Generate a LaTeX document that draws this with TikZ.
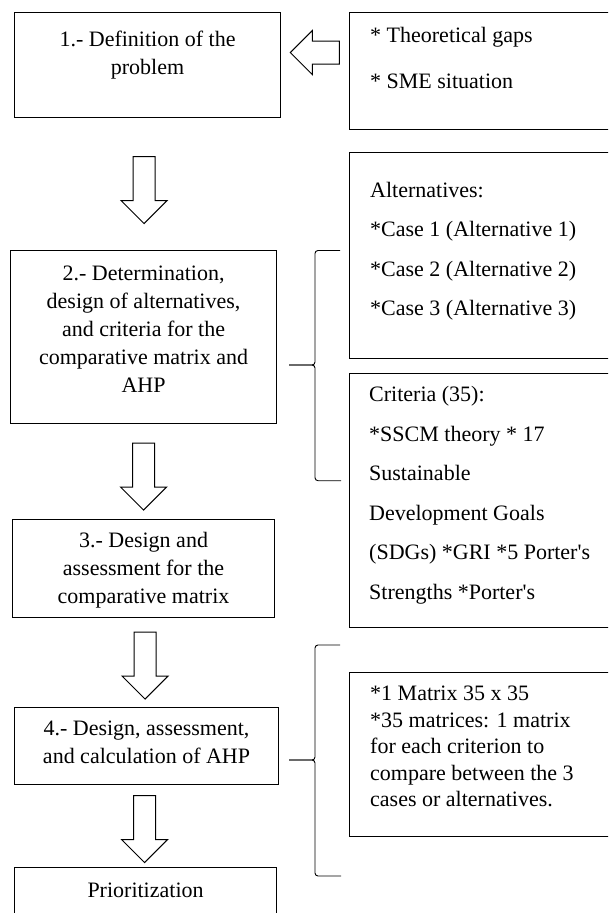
\documentclass[tikz,border=0pt]{standalone}
\usepackage{fontspec}
\setmainfont{Liberation Serif}
\usetikzlibrary{positioning,shapes.arrows,calc}
\begin{document}
\begin{tikzpicture}[x=1pt,y=1pt]
      \tikzstyle{every node}+=[inner sep=0pt]
      \tikzstyle{stepbox}=[draw=black, line width=1.1pt, rectangle, anchor=north west]
      \tikzstyle{steptext}=[align=center, font=\fontsize{22}{28}\selectfont]
      \tikzstyle{notetext}=[align=left, font=\fontsize{22}{39.5}\selectfont]
      \tikzstyle{hollow}=[draw=black, line width=1pt, single arrow, single arrow head extend=12pt, inner sep=10.5pt, minimum height=67pt, shape border rotate=270]
      \tikzstyle{bracket}=[draw=black, line width=0.9pt, rounded corners=3pt]
      \useasboundingbox (0,0) rectangle (608,-913);
      \fill [white] (0,0) rectangle (608,-913);
      \clip (0,0) rectangle (608,-913);
      \node [stepbox, minimum width=266, minimum height=105] (def) at (14,-12) {};
      \node [steptext, below=18.5pt of def.north] (deftext) {1.- Definition of the\\problem};
      \node [stepbox, minimum width=266, minimum height=173] (det) at (10,-250) {};
      \node [steptext, below=15.5pt of det.north] (dettext) {2.- Determination,\\design of alternatives,\\and criteria for the\\comparative matrix and\\AHP};
      \node [stepbox, minimum width=262, minimum height=98] (cmp) at (12,-519) {};
      \node [steptext, below=13.5pt of cmp.north] (cmptext) {3.- Design and\\assessment for the\\comparative matrix};
      \node [stepbox, minimum width=264, minimum height=77] (ahp) at (14,-707) {};
      \node [steptext, below=14pt of ahp.north] (ahptext) {4.- Design, assessment,\\and calculation of AHP};
      \node [stepbox, minimum width=262, minimum height=60] (prio) at (14,-867) {};
      \node [steptext, below=16pt of prio.north] (priotext) {Prioritization};
      \node [stepbox, minimum width=270, minimum height=117] (gaps) at (349,-12) {};
      \node [notetext, font=\fontsize{22}{46}\selectfont, below right=15.5pt and 21pt of gaps.north west] (gapstext) {* Theoretical gaps\\* SME situation};
      \node [stepbox, minimum width=270, minimum height=206] (alts) at (349,-152) {};
      \node [notetext, below right=30pt and 21pt of alts.north west] (altstext) {Alternatives:\\*Case 1 (Alternative 1)\\*Case 2 (Alternative 2)\\*Case 3 (Alternative 3)};
      \node [stepbox, minimum width=270, minimum height=254] (crit) at (349,-373) {};
      \node [notetext, below right=13.5pt and 20pt of crit.north west] (crittext) {Criteria (35):\\*SSCM theory * 17\\Sustainable\\Development Goals\\(SDGs) *GRI *5 Porter\textquotesingle s\\Strengths *Porter\textquotesingle s};
      \node [stepbox, minimum width=270, minimum height=164] (mats) at (349,-672) {};
      \node [notetext, font=\fontsize{22}{26.5}\selectfont, below right=14pt and 21pt of mats.north west] (matstext) {*1 Matrix 35 x 35\\*35 matrices: 1 matrix\\for each criterion to\\compare between the 3\\cases or alternatives.};
      \node [hollow] (defdet) at ($(def.south)!0.5!(det.north)+(-1.5,-0.5)$) {};
      \node [hollow] (detcmp) at ($(det.south)!0.5!(cmp.north)+(0,0.5)$) {};
      \node [hollow] (cmpahp) at ($(cmp.south)!0.5!(ahp.north)+(0,2.5)$) {};
      \node [hollow] (ahpprio) at ($(ahp.south)!0.5!(prio.north)+(-1.5,2.5)$) {};
      \node [hollow, shape border rotate=180, inner sep=11pt, single arrow head extend=10.5pt, minimum height=49pt] (gapsdef) at ($(def.east)!0.5!(gaps.west)+(5.5,15.5)$) {};
      \draw [bracket] (340,-250.5) -| (315,-365) -- (289,-365);
      \draw [bracket] (289,-365) -- (315,-365) |- (341,-480.7);
      \draw [bracket] (340,-645) -| (315,-760) -- (289,-760);
      \draw [bracket] (289,-760) -- (315,-760) |- (341,-876);
\end{tikzpicture}
\end{document}
